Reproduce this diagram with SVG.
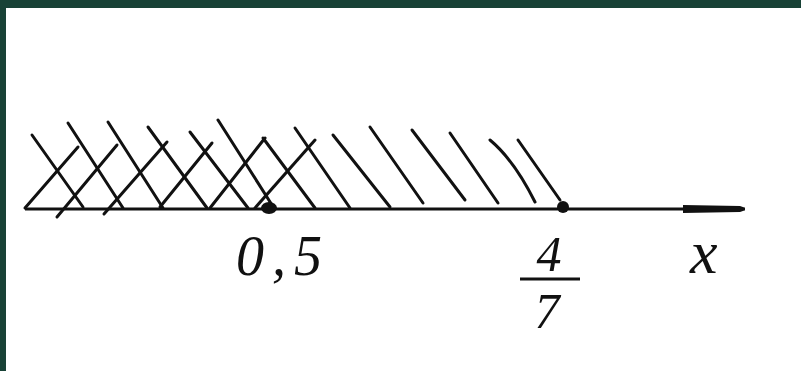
<svg xmlns="http://www.w3.org/2000/svg" width="801" height="371" viewBox="0 0 801 371">
<style>
.h{stroke:#111;stroke-width:3;stroke-linecap:round;fill:none}
.t{font-family:"Liberation Serif",serif;font-style:italic;fill:#111}
</style>
<rect x="0" y="0" width="801" height="371" fill="#ffffff"/>
<rect x="0" y="0" width="801" height="8" fill="#184236"/>
<rect x="0" y="0" width="6" height="371" fill="#184236"/>
<g id="hatching">
<line class="h" x1="32" y1="135" x2="83" y2="207"/>
<line class="h" x1="68" y1="123" x2="123" y2="208"/>
<line class="h" x1="108" y1="122" x2="163" y2="208"/>
<line class="h" x1="148" y1="127" x2="207" y2="208"/>
<line class="h" x1="190" y1="132" x2="248" y2="208"/>
<line class="h" x1="218" y1="120" x2="272" y2="205"/>
<line class="h" x1="263" y1="138" x2="315" y2="208"/>
<line class="h" x1="295" y1="128" x2="350" y2="208"/>
<line class="h" x1="333" y1="135" x2="390" y2="207"/>
<line class="h" x1="370" y1="127" x2="423" y2="203"/>
<line class="h" x1="412" y1="130" x2="465" y2="200"/>
<line class="h" x1="450" y1="133" x2="498" y2="203"/>
<path class="h" d="M490 140 Q514 160 535 202"/>
<line class="h" x1="518" y1="140" x2="560" y2="200"/>
<line class="h" x1="25" y1="208" x2="78" y2="147"/>
<line class="h" x1="57" y1="217" x2="117" y2="145"/>
<line class="h" x1="104" y1="214" x2="167" y2="142"/>
<line class="h" x1="160" y1="207" x2="212" y2="143"/>
<line class="h" x1="210" y1="208" x2="265" y2="138"/>
<line class="h" x1="255" y1="208" x2="315" y2="140"/>
</g>
<g id="axis">
<line x1="25" y1="209" x2="745" y2="209" stroke="#111" stroke-width="3"/>
<path d="M683 205 L740 206 Q750 209 740 212 L683 213 Z" fill="#111"/>
</g>
<g id="point-05">
<ellipse cx="269" cy="208" rx="8" ry="6" fill="#111"/>
<text class="t" x="236" y="275" font-size="56" letter-spacing="8">0,5</text>
</g>
<g id="point-47">
<ellipse cx="563" cy="207" rx="6" ry="6" fill="#111"/>
<text class="t" x="549" y="271" font-size="50" text-anchor="middle">4</text>
<line x1="520" y1="279" x2="580" y2="279" stroke="#111" stroke-width="3"/>
<text class="t" x="547" y="328" font-size="50" text-anchor="middle">7</text>
</g>
<g id="label-x">
<text class="t" x="690" y="273" font-size="62">x</text>
</g>
</svg>
